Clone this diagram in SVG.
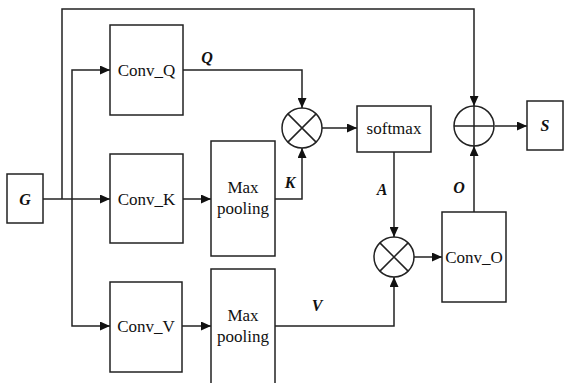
<svg xmlns="http://www.w3.org/2000/svg" width="564" height="383" viewBox="0 0 564 383">
<defs>
<marker id="ah" markerUnits="userSpaceOnUse" markerWidth="10" markerHeight="9" refX="10" refY="4.5" orient="auto"><path d="M0,0 L10,4.5 L0,9 z" fill="#111"/></marker>
</defs>
<style>
.b{fill:#fff;stroke:#222;stroke-width:1.5}
.l{fill:none;stroke:#222;stroke-width:1.5}
.a{fill:none;stroke:#222;stroke-width:1.5;marker-end:url(#ah)}
.t{font-family:"Liberation Serif",serif;font-size:17px;fill:#111;text-anchor:middle}
.v{font-family:"Liberation Serif",serif;font-size:16px;font-weight:bold;font-style:italic;fill:#111;text-anchor:middle}
</style>
<rect width="564" height="383" fill="#fff"/>
<g id="connectors">
<path class="l" d="M43,199 H72"/>
<path class="a" d="M62,199 V9 H474 V106"/>
<path class="a" d="M72,199 V70 H110"/>
<path class="a" d="M72,199 H110"/>
<path class="a" d="M72,199 V326 H110"/>
<path class="a" d="M183,199 H211"/>
<path class="a" d="M182,326 H211"/>
<path class="a" d="M183,70 H302 V108"/>
<path class="a" d="M275,199 H302 V148"/>
<path class="a" d="M322,128 H357"/>
<path class="a" d="M394,152 V237"/>
<path class="a" d="M275,326 H394 V277"/>
<path class="a" d="M414,257 H442"/>
<path class="a" d="M474,212 V146"/>
<path class="a" d="M495,126 H527"/>
<text class="v" x="207" y="63">Q</text>
<text class="v" x="290" y="188">K</text>
<text class="v" x="382" y="195">A</text>
<text class="v" x="459" y="193">O</text>
<text class="v" x="317" y="311">V</text>
</g>
<g id="G"><rect class="b" x="7" y="174" width="36" height="49"/><text class="v" x="25" y="205">G</text></g>
<g id="convQ"><rect class="b" x="110" y="25" width="73" height="90"/><text class="t" x="146.5" y="76">Conv_Q</text></g>
<g id="convK"><rect class="b" x="110" y="154" width="73" height="89"/><text class="t" x="146.5" y="205">Conv_K</text></g>
<g id="convV"><rect class="b" x="110" y="282" width="72" height="90"/><text class="t" x="146" y="332">Conv_V</text></g>
<g id="maxpoolK"><rect class="b" x="211" y="141" width="64" height="115"/><text class="t" x="243" y="193">Max</text><text class="t" x="243" y="214">pooling</text></g>
<g id="maxpoolV"><rect class="b" x="211" y="269" width="64" height="120"/><text class="t" x="243" y="321">Max</text><text class="t" x="243" y="342">pooling</text></g>
<g id="mul1"><circle class="b" cx="302" cy="128" r="20"/><path class="l" d="M287.9,113.9 L316.1,142.1 M316.1,113.9 L287.9,142.1"/></g>
<g id="softmax"><rect class="b" x="357" y="106" width="74" height="46"/><text class="t" x="394" y="134">softmax</text></g>
<g id="mul2"><circle class="b" cx="394" cy="257" r="20"/><path class="l" d="M379.9,242.9 L408.1,271.1 M408.1,242.9 L379.9,271.1"/></g>
<g id="convO"><rect class="b" x="442" y="212" width="64" height="90"/><text class="t" x="474" y="263">Conv_O</text></g>
<g id="add"><circle class="b" cx="474" cy="126" r="20"/><path class="l" d="M454,126 H494 M474,106 V146"/></g>
<g id="S"><rect class="b" x="527" y="101" width="36" height="49"/><text class="v" x="545" y="131">S</text></g>
</svg>
